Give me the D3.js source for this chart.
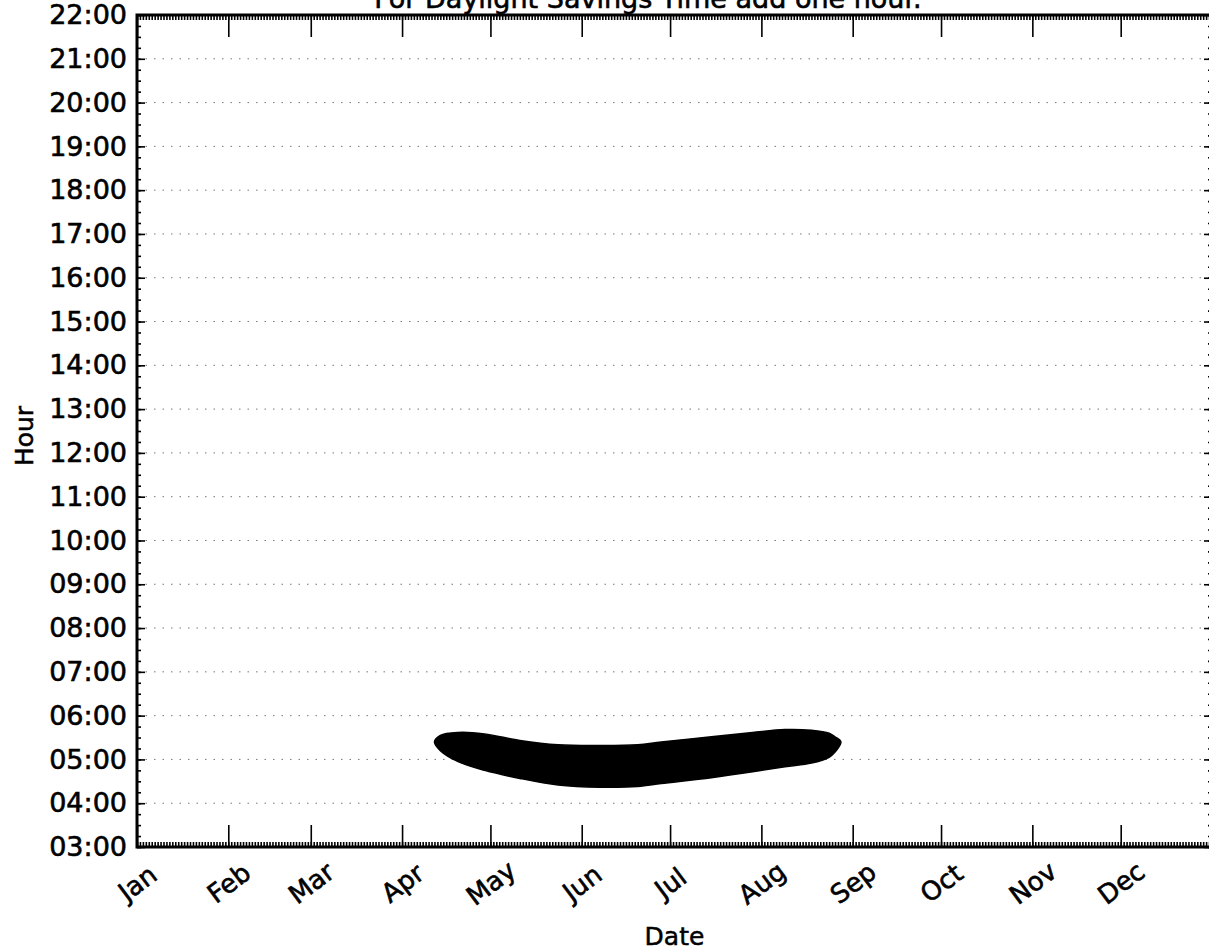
<!DOCTYPE html>
<html>
<head>
<meta charset="utf-8">
<script src="https://cdn.jsdelivr.net/npm/d3@7/dist/d3.min.js"></script>
<style>
  body { margin: 0; background: #fff; }
  svg { display: block; }
  text { font-family: "DejaVu Sans", sans-serif; }
</style>
</head>
<body>
<div id="chart"></div>
<script>
// ---- data ----
let monthLabels = ["Jan", "Feb", "Mar", "Apr", "May", "Jun", "Jul", "Aug", "Sep", "Oct", "Nov", "Dec"]
let hourTicks = [3, 4, 5, 6, 7, 8, 9, 10, 11, 12, 13, 14, 15, 16, 17, 18, 19, 20, 21, 22]

// band outline: for each date the earliest and latest time
let bandDates = ["2009-04-12", "2009-04-14", "2009-04-20", "2009-04-29", "2009-05-11", "2009-05-24",
    "2009-06-07", "2009-06-20", "2009-06-28", "2009-07-15", "2009-07-29", "2009-08-09",
    "2009-08-18", "2009-08-24", "2009-08-26", "2009-08-28"]
let bandLate = ["05:24", "05:33", "05:37", "05:35", "05:26", "05:20",
    "05:19", "05:20", "05:24", "05:31", "05:37", "05:41",
    "05:40", "05:36", "05:31", "05:24"]
let bandEarly = ["05:24", "05:12", "04:57", "04:45", "04:34", "04:25",
    "04:22", "04:23", "04:27", "04:35", "04:43", "04:50",
    "04:55", "05:03", "05:10", "05:24"]

let titleText = "For Daylight Savings Time add one hour."

// ---- canvas ----
let W = 1209, H = 952
let plot = { left: 137, right: 1212, top: 15, bottom: 847 }

let svg = d3.select("#chart").append("svg")
    .attr("width", W)
    .attr("height", H)

let x = d3.scaleTime()
    .domain([new Date(2009, 0, 1), new Date(2010, 0, 1)])
    .range([plot.left, plot.right])
let y = d3.scaleLinear()
    .domain([3, 22])
    .range([plot.bottom, plot.top])

let parseDay = d3.timeParse("%Y-%m-%d")
function toHours(s) {
    let p = s.split(":")
    return +p[0] + p[1] / 60
}

// dotted horizontal grid
svg.selectAll(".grid")
    .data(hourTicks.slice(1, -1))
    .enter()
    .append("line")
    .attr("class", "grid")
    .attr("x1", plot.left)
    .attr("x2", plot.right)
    .attr("y1", d => y(d))
    .attr("y2", d => y(d))
    .attr("stroke", "#777")
    .attr("stroke-width", 1)
    .attr("stroke-dasharray", "1.5,7")

// band: top edge left->right, then bottom edge right->left, closed smooth curve
let outline = []
bandDates.forEach((d, i) => outline.push([x(parseDay(d)), y(toHours(bandLate[i]))]))
for (let i = bandDates.length - 2; i > 0; i--) {
    outline.push([x(parseDay(bandDates[i])), y(toHours(bandEarly[i]))])
}
svg.append("path")
    .attr("d", d3.line().curve(d3.curveCatmullRomClosed.alpha(0.5))(outline))
    .attr("fill", "#000")
    .attr("stroke", "#000")
    .attr("stroke-width", 1.5)
    .attr("stroke-linejoin", "round")

// ---- axes ----
let monthTicks = d3.timeMonth.range(new Date(2009, 0, 1), new Date(2010, 0, 1))
let dayTicks = d3.timeDay.range(new Date(2009, 0, 1), new Date(2010, 0, 1))
let quarterTicks = d3.range(3, 22.01, 0.25)

function styleAxis(g) {
    g.select(".domain").remove()
    g.selectAll(".tick line").attr("stroke", "#000").attr("stroke-width", 1.6)
}

// bottom
svg.append("g")
    .attr("transform", "translate(0," + plot.bottom + ")")
    .call(d3.axisBottom(x).tickValues(dayTicks).tickSize(-5).tickFormat(""))
    .call(styleAxis)
let xAxis = svg.append("g")
    .attr("transform", "translate(0," + plot.bottom + ")")
    .call(d3.axisBottom(x).tickValues(monthTicks).tickSize(-22)
        .tickFormat(d => monthLabels[d.getMonth()]))
    .call(styleAxis)
xAxis.selectAll("text")
    .attr("y", 0)
    .attr("dy", "0.35em")
    .attr("transform", "translate(0,36) rotate(-37)")
    .attr("text-anchor", "middle")
    .attr("font-size", 26)
    .attr("fill", "#000")
    .attr("stroke", "#000")
    .attr("stroke-width", 0.6)

// top
svg.append("g")
    .attr("transform", "translate(0," + plot.top + ")")
    .call(d3.axisTop(x).tickValues(dayTicks).tickSize(-5).tickFormat(""))
    .call(styleAxis)
svg.append("g")
    .attr("transform", "translate(0," + plot.top + ")")
    .call(d3.axisTop(x).tickValues(monthTicks).tickSize(-22).tickFormat(""))
    .call(styleAxis)

// left
svg.append("g")
    .attr("transform", "translate(" + plot.left + ",0)")
    .call(d3.axisLeft(y).tickValues(quarterTicks).tickSize(-4).tickFormat(""))
    .call(styleAxis)
let yAxis = svg.append("g")
    .attr("transform", "translate(" + plot.left + ",0)")
    .call(d3.axisLeft(y).tickValues(hourTicks).tickSize(-8).tickPadding(10)
        .tickFormat(d => d3.format("02d")(d) + ":00"))
    .call(styleAxis)
yAxis.selectAll("text")
    .attr("font-size", 27)
    .attr("fill", "#000")
    .attr("stroke", "#000")
    .attr("stroke-width", 0.6)

// right
svg.append("g")
    .attr("transform", "translate(" + plot.right + ",0)")
    .call(d3.axisRight(y).tickValues(quarterTicks).tickSize(-4).tickFormat(""))
    .call(styleAxis)
svg.append("g")
    .attr("transform", "translate(" + plot.right + ",0)")
    .call(d3.axisRight(y).tickValues(hourTicks).tickSize(-8).tickFormat(""))
    .call(styleAxis)

// frame
svg.append("rect")
    .attr("x", plot.left)
    .attr("y", plot.top)
    .attr("width", plot.right - plot.left)
    .attr("height", plot.bottom - plot.top)
    .attr("fill", "none")
    .attr("stroke", "#000")
    .attr("stroke-width", 3)

// labels
svg.append("text")
    .attr("x", 648)
    .attr("y", 8)
    .attr("text-anchor", "middle")
    .attr("font-size", 27)
    .attr("stroke", "#000")
    .attr("stroke-width", 0.6)
    .text(titleText)

svg.append("text")
    .attr("x", (plot.left + plot.right) / 2)
    .attr("y", 945)
    .attr("text-anchor", "middle")
    .attr("font-size", 25)
    .attr("stroke", "#000")
    .attr("stroke-width", 0.5)
    .text("Date")

svg.append("text")
    .attr("transform", "translate(33,436) rotate(-90)")
    .attr("text-anchor", "middle")
    .attr("font-size", 25)
    .attr("stroke", "#000")
    .attr("stroke-width", 0.5)
    .text("Hour")
</script>
</body>
</html>
